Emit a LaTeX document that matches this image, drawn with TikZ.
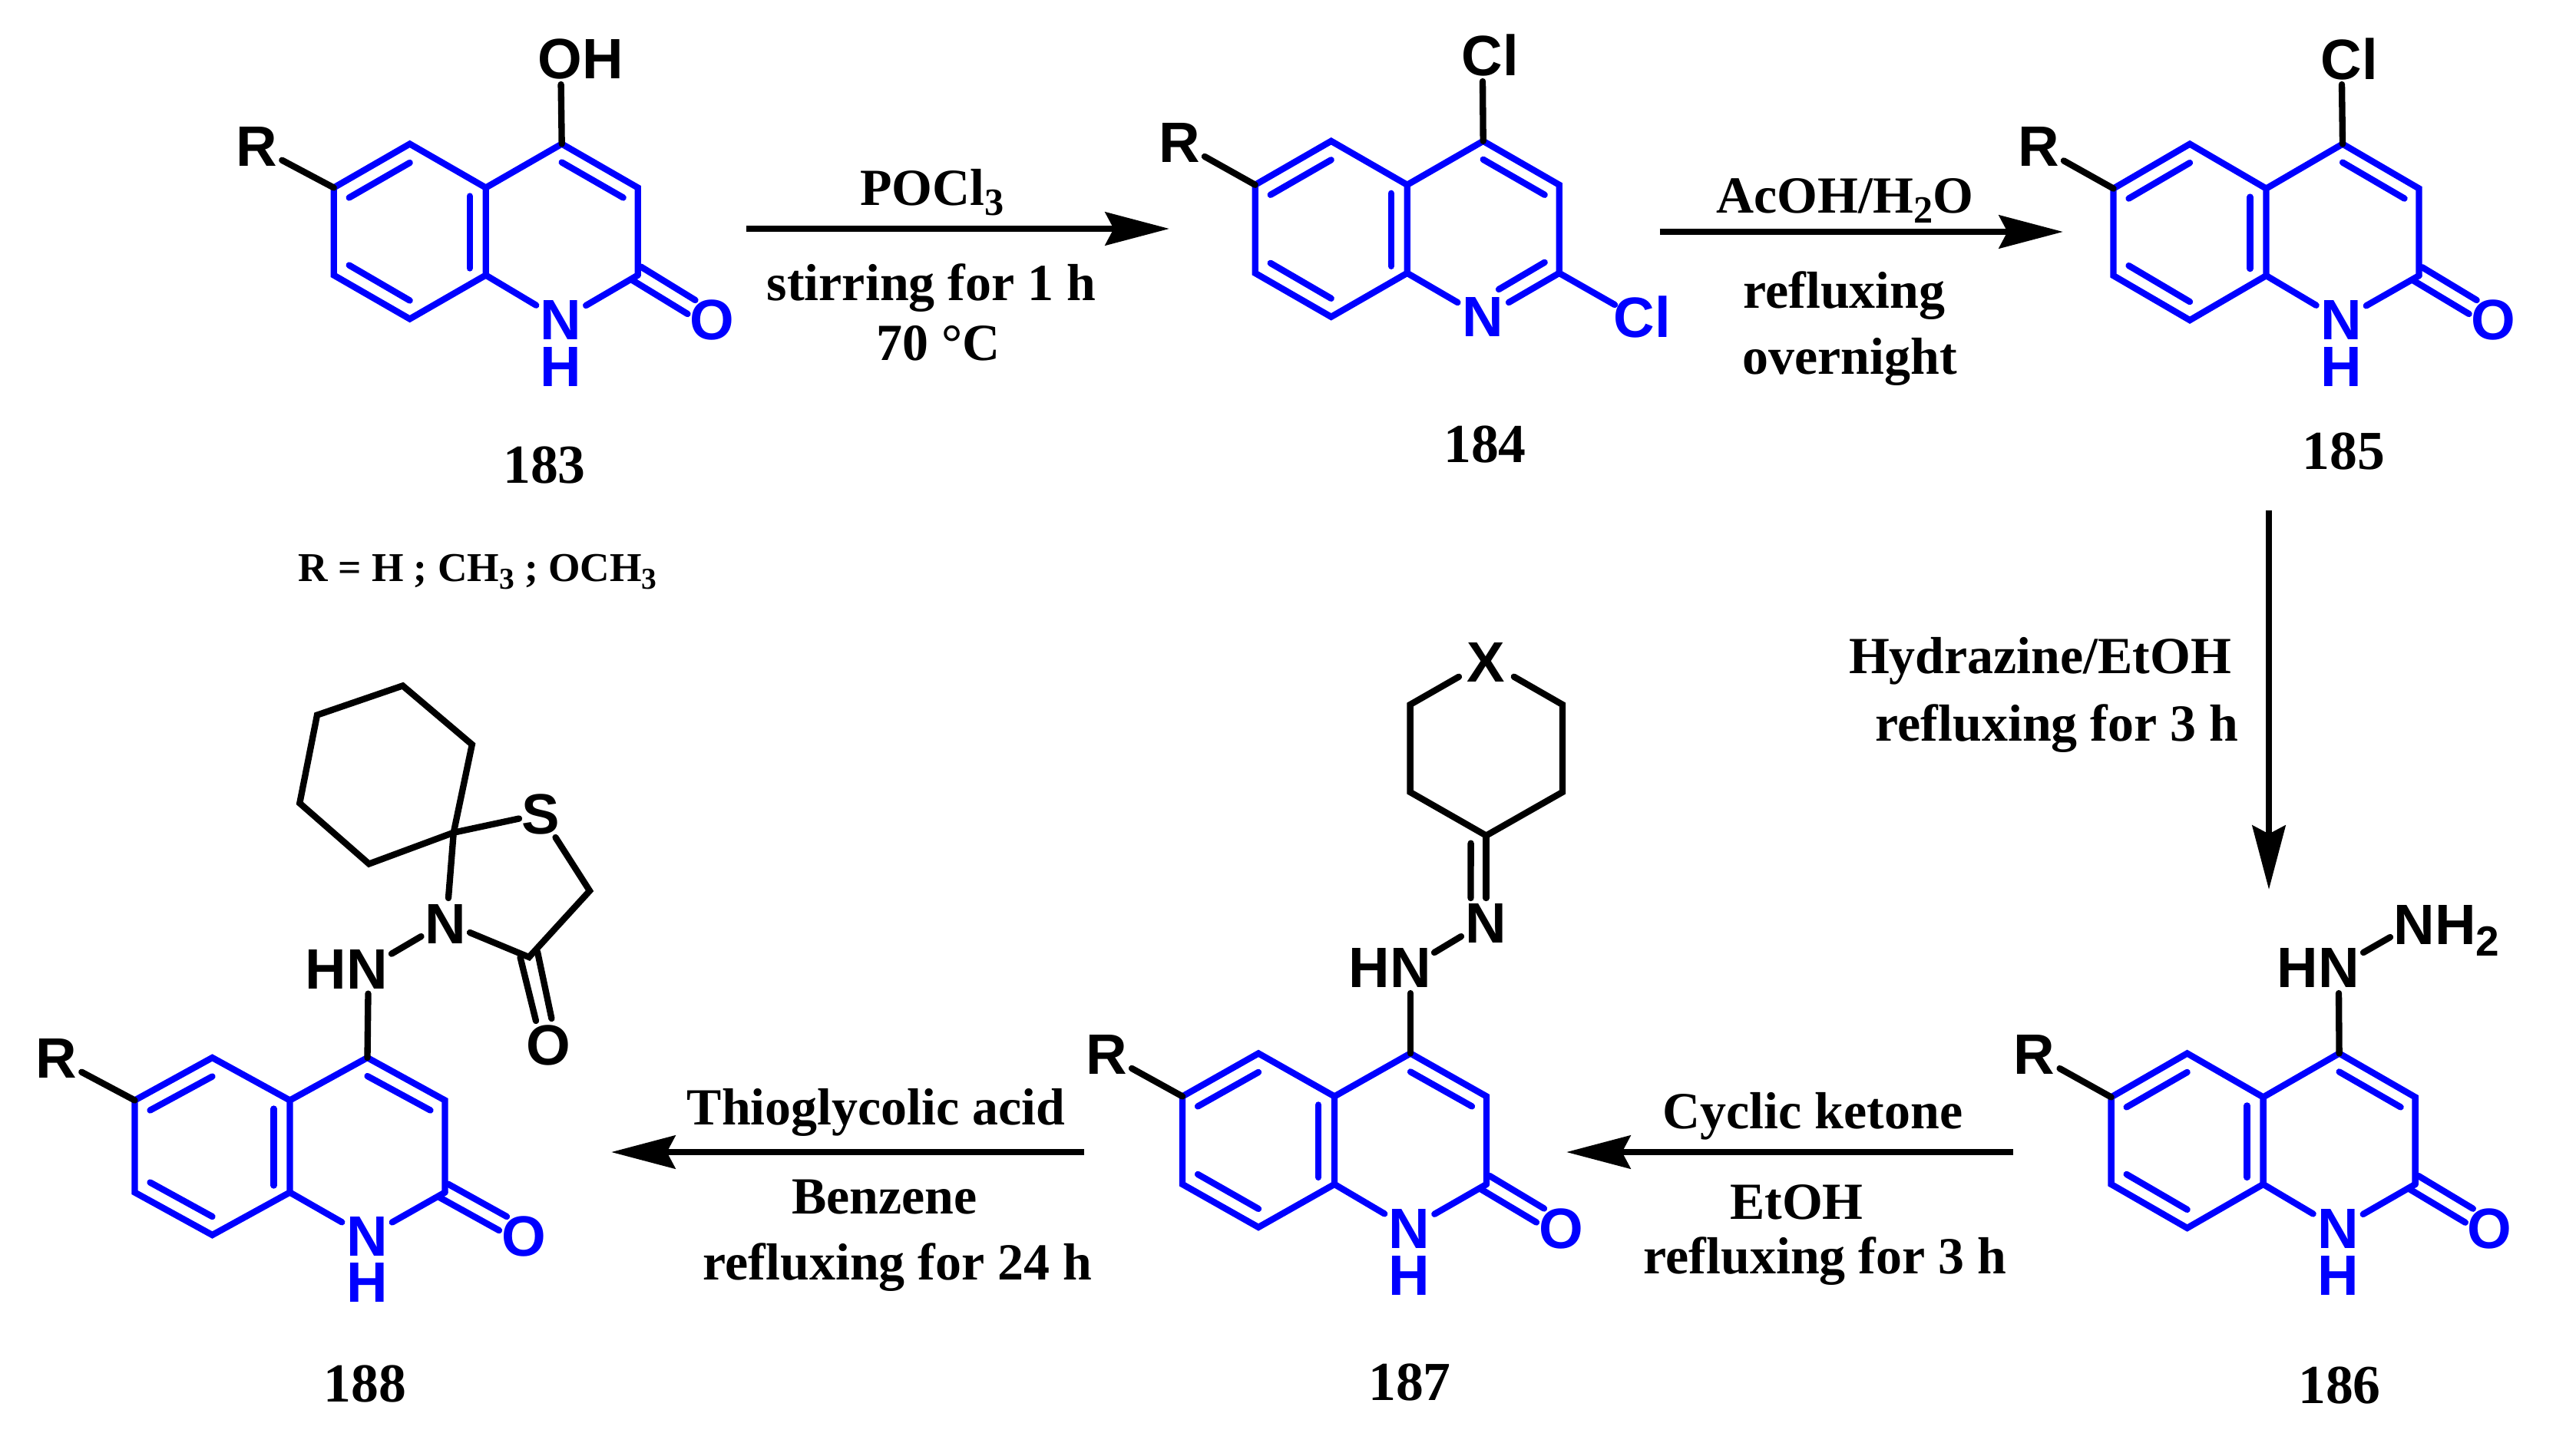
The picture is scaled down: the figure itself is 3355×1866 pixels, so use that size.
\documentclass[tikz,border=0pt]{standalone}
\usepackage{fontspec}
\usepackage{graphicx}
\setmainfont{Liberation Serif}
\setsansfont{Liberation Sans}
\usetikzlibrary{arrows.meta}
\definecolor{chemblue}{RGB}{0,0,255}
\tikzset{
  bondk/.style={line width=2pt,line cap=round,line join=miter,black},
  bondb/.style={line width=2pt,line cap=round,line join=miter,chemblue},
  chem/.style={font=\fontsize{17.8}{20}\selectfont\sffamily\bfseries,inner sep=0pt,black},
  chemb/.style={chem,text=chemblue},
  atom/.style={chem,circle},
  atomb/.style={chemb,circle},
  cond/.style={font=\fontsize{16.3}{19}\selectfont\bfseries,inner sep=0pt,anchor=base},
  cmpd/.style={font=\fontsize{17.2}{19}\selectfont\bfseries,inner sep=0pt,anchor=base},
  rxn/.style={line width=2.1pt,-{Stealth[length=20pt,width=10.3pt,inset=2.6pt]}},
}
\newcommand{\sbs}[1]{\raisebox{-.2em}{\scalebox{.74}{#1}}}
\newcommand{\quinring}[6]{%
  \coordinate (#1c4a) at ({#2},{#4+#5});
  \coordinate (#1c8a) at ({#2},{#4+#5+#6});
  \coordinate (#1c5) at ({#2-#3},{#4});
  \coordinate (#1c6) at ({#2-2*#3},{#4+#5});
  \coordinate (#1c7) at ({#2-2*#3},{#4+#5+#6});
  \coordinate (#1c8) at ({#2-#3},{#4+2*#5+#6});
  \coordinate (#1c4) at ({#2+#3},{#4});
  \coordinate (#1c3) at ({#2+2*#3},{#4+#5});
  \coordinate (#1c2) at ({#2+2*#3},{#4+#5+#6});
  \draw[bondb] (#1c2) -- (#1c3) -- (#1c4) -- (#1c4a) -- (#1c5) -- (#1c6) -- (#1c7) -- (#1c8) -- (#1c8a) -- (#1c4a);
  \draw[bondb] ([shift={(20,13)}]#1c6) -- ([shift={(0,24.5)}]#1c5);
  \draw[bondb] ([shift={(20,-13)}]#1c7) -- ([shift={(0,-24)}]#1c8);
  \draw[bondb] ([shift={(-21,11)}]#1c4a) -- ([shift={(-21,-9)}]#1c8a);
  \draw[bondb] ([shift={(0,24)}]#1c4) -- ([shift={(-19,13)}]#1c3);
}
% lactam part: prefix, N x, N y, H y, O x
\newcommand{\lactam}[5]{%
  \node[atomb] (#1n) at (#2,#3) {N};
  \node[chemb] (#1h) at (#2,#4) {H};
  \node[atomb] (#1o) at (#5,#3) {O};
  \draw[bondb] (#1c8a) -- (#1n);
  \draw[bondb] (#1c2) -- (#1n);
  \draw[bondb] ([shift={(4,-11)}]#1c2) -- ([shift={(-22,-26)}]#1o.center);
  \draw[bondb] ([shift={(-8,6)}]#1c2) -- ([shift={(-32,-8)}]#1o.center);
}
\newcommand{\rsubst}[3]{%
  \node[atom] (#1r) at (#2,#3) {R};
  \draw[bondk] (#1c6) -- (#1r);
}
\begin{document}
\begin{tikzpicture}[x=0.24pt,y=-0.24pt]
\useasboundingbox (0,0) rectangle (3355,1866);

% 183
\quinring{a}{632.7}{99}{187.5}{57}{114}
\lactam{a}{730.6}{417}{478}{927.5}
\rsubst{a}{334}{191}
\node[chem] (aoh) at (756,77) {OH};
\draw[bondk] (ac4) -- ([shift={(-25.4,33)}]aoh.center);
\node[cmpd] (l183) at (709,629) {183};
\node[font=\fontsize{12.8}{15}\selectfont\bfseries,inner sep=0pt,anchor=base] (rdef) at (622,757) {R = H ; CH\sbs{3} ; OCH\sbs{3}};

% 184
\quinring{b}{1832.7}{99}{183.8}{57}{115}
\node[atomb] (bn) at (1931,413) {N};
\node[chemb] (bcl) at (2139,413) {Cl};
\draw[bondb] (bc8a) -- (bn);
\draw[bondb] (bc2) -- ([shift={(34,-19)}]bn.center);
\draw[bondb] ([shift={(21,-36)}]bn.center) -- ([shift={(-19,-14)}]bc2);
\draw[bondb] (bc2) -- ([shift={(-36,-16)}]bcl.center);
\rsubst{b}{1536}{185.5}
\node[chem] (bcl2) at (1941,72) {Cl};
\draw[bondk] (bc4) -- ([shift={(-10,34)}]bcl2.center);
\node[cmpd] (l184) at (1934,602) {184};

% 185
\quinring{c}{2951.5}{99.5}{187.6}{58}{113.5}
\lactam{c}{3049}{417}{478}{3247.6}
\rsubst{c}{2655}{191}
\node[chem] (ccl) at (3060,77) {Cl};
\draw[bondk] (cc4) -- ([shift={(-10,33)}]ccl.center);
\node[cmpd] (l185) at (3052.6,611) {185};

% 186
\quinring{d}{2947.6}{99}{1372.4}{57}{113.5}
\lactam{d}{3045}{1600.7}{1662}{3242.8}
\rsubst{d}{2649.6}{1373.7}
\node[chem] (dhn) at (3019,1261) {HN};
\node[chem,anchor=base west] (dnh) at (3117,1230) {NH\raisebox{-3.6pt}{\scalebox{.74}{2}}};
\draw[bondk] (dc4) -- ([shift={(27,33)}]dhn.center);
\draw[bondk] ([shift={(59,-20)}]dhn.center) -- ([shift={(-4,-9)}]dnh.base west);
\node[cmpd] (l186) at (3047,1828) {186};

% 187
\quinring{e}{1738}{99}{1372.4}{56}{114.5}
\lactam{e}{1835.6}{1600.5}{1662}{2033}
\rsubst{e}{1441}{1373.7}
\node[chem] (ehn) at (1810,1261) {HN};
\node[chem] (en2) at (1935,1203) {N};
\node[chem] (ex) at (1935,863) {X};
\coordinate (ecn) at (1935.6,1088.6);
\coordinate (ell) at (1836.6,1032);
\coordinate (eul) at (1836.6,918);
\coordinate (eur) at (2035,918);
\coordinate (elr) at (2035,1032);
\draw[bondk] (ec4) -- ([shift={(27,33)}]ehn.center);
\draw[bondk] ([shift={(58,-20)}]ehn.center) -- ([shift={(-32,17)}]en2.center);
\draw[bondk] (ecn) -- ([shift={(0.6,-33)}]en2.center);
\draw[bondk] ([shift={(-20,10)}]ecn) -- ([shift={(-19.5,-33)}]en2.center);
\draw[bondk] ([shift={(-35,18.7)}]ex.center) -- (eul) -- (ell) -- (ecn) -- (elr) -- (eur) -- ([shift={(36.8,18.7)}]ex.center);
\node[cmpd] (l187) at (1836,1824) {187};

% 188
\quinring{f}{377.5}{101}{1378}{55.5}{120}
\lactam{f}{478}{1611}{1671}{682}
\rsubst{f}{73}{1379}
\node[chem] (fhn) at (451.5,1262.6) {HN};
\node[chem] (fn2) at (580,1204) {N};
\node[chem] (fs) at (704,1060.5) {S};
\node[chem] (fo2) at (714,1362) {O};
\coordinate (fco) at (689,1247);
\coordinate (fch) at (768,1160.6);
\coordinate (fsp) at (590.8,1084.7);
\coordinate (fa) at (614.8,970);
\coordinate (fb) at (524.5,893.4);
\coordinate (fd) at (413,931.6);
\coordinate (fe) at (390.3,1046.4);
\coordinate (ff) at (480.6,1125.5);
\draw[bondk] (fsp) -- (fa) -- (fb) -- (fd) -- (fe) -- (ff) -- cycle;
\draw[bondk] (fc4) -- ([shift={(28,32)}]fhn.center);
\draw[bondk] ([shift={(58.5,-20)}]fhn.center) -- ([shift={(-31.5,16)}]fn2.center);
\draw[bondk] (fsp) -- ([shift={(-28,6)}]fs.center);
\draw[bondk] (fsp) -- ([shift={(4,-34)}]fn2.center);
\draw[bondk] ([shift={(19.5,30.5)}]fs.center) -- (fch) -- (fco) -- ([shift={(32,11)}]fn2.center);
\draw[bondk] ([shift={(-11.5,0)}]fco) -- ([shift={(-16,-32)}]fo2.center);
\draw[bondk] ([shift={(11,-7)}]fco) -- ([shift={(4.4,-35)}]fo2.center);
\node[cmpd] (l188) at (475.5,1826) {188};

% reaction arrows
\coordinate (r1a) at (972,298); \coordinate (r1b) at (1523,298);
\coordinate (r2a) at (2161.5,302); \coordinate (r2b) at (2687,302);
\coordinate (r3a) at (2955,665); \coordinate (r3b) at (2955,1159);
\coordinate (r4a) at (2622,1501); \coordinate (r4b) at (2040,1501);
\coordinate (r5a) at (1412,1501); \coordinate (r5b) at (796,1501);
\draw[rxn] (r1a) -- (r1b);
\draw[rxn] (r2a) -- (r2b);
\draw[rxn] (r3a) -- (r3b);
\draw[rxn] (r4a) -- (r4b);
\draw[rxn] (r5a) -- (r5b);

% conditions
\node[cond] (t1) at (1214,267) {POCl\sbs{3}};
\node[cond] (t2) at (1213,391) {stirring for 1 h};
\node[cond] (t3) at (1222,469) {70 °C};
\node[cond] (t4) at (2403,277) {AcOH/H\sbs{2}O};
\node[cond] (t5) at (2402,401) {refluxing};
\node[cond] (t6) at (2409,487) {overnight};
\node[cond] (t7) at (2657,877) {Hydrazine/EtOH};
\node[cond] (t8) at (2679,965) {refluxing for 3 h};
\node[cond] (t9) at (2361,1470) {Cyclic ketone};
\node[cond] (t10) at (2340,1588) {EtOH};
\node[cond] (t11) at (2377,1659) {refluxing for 3 h};
\node[cond] (t12) at (1141,1465) {Thioglycolic acid};
\node[cond] (t13) at (1152,1581) {Benzene};
\node[cond] (t14) at (1169,1667) {refluxing for 24 h};
\end{tikzpicture}
\end{document}
